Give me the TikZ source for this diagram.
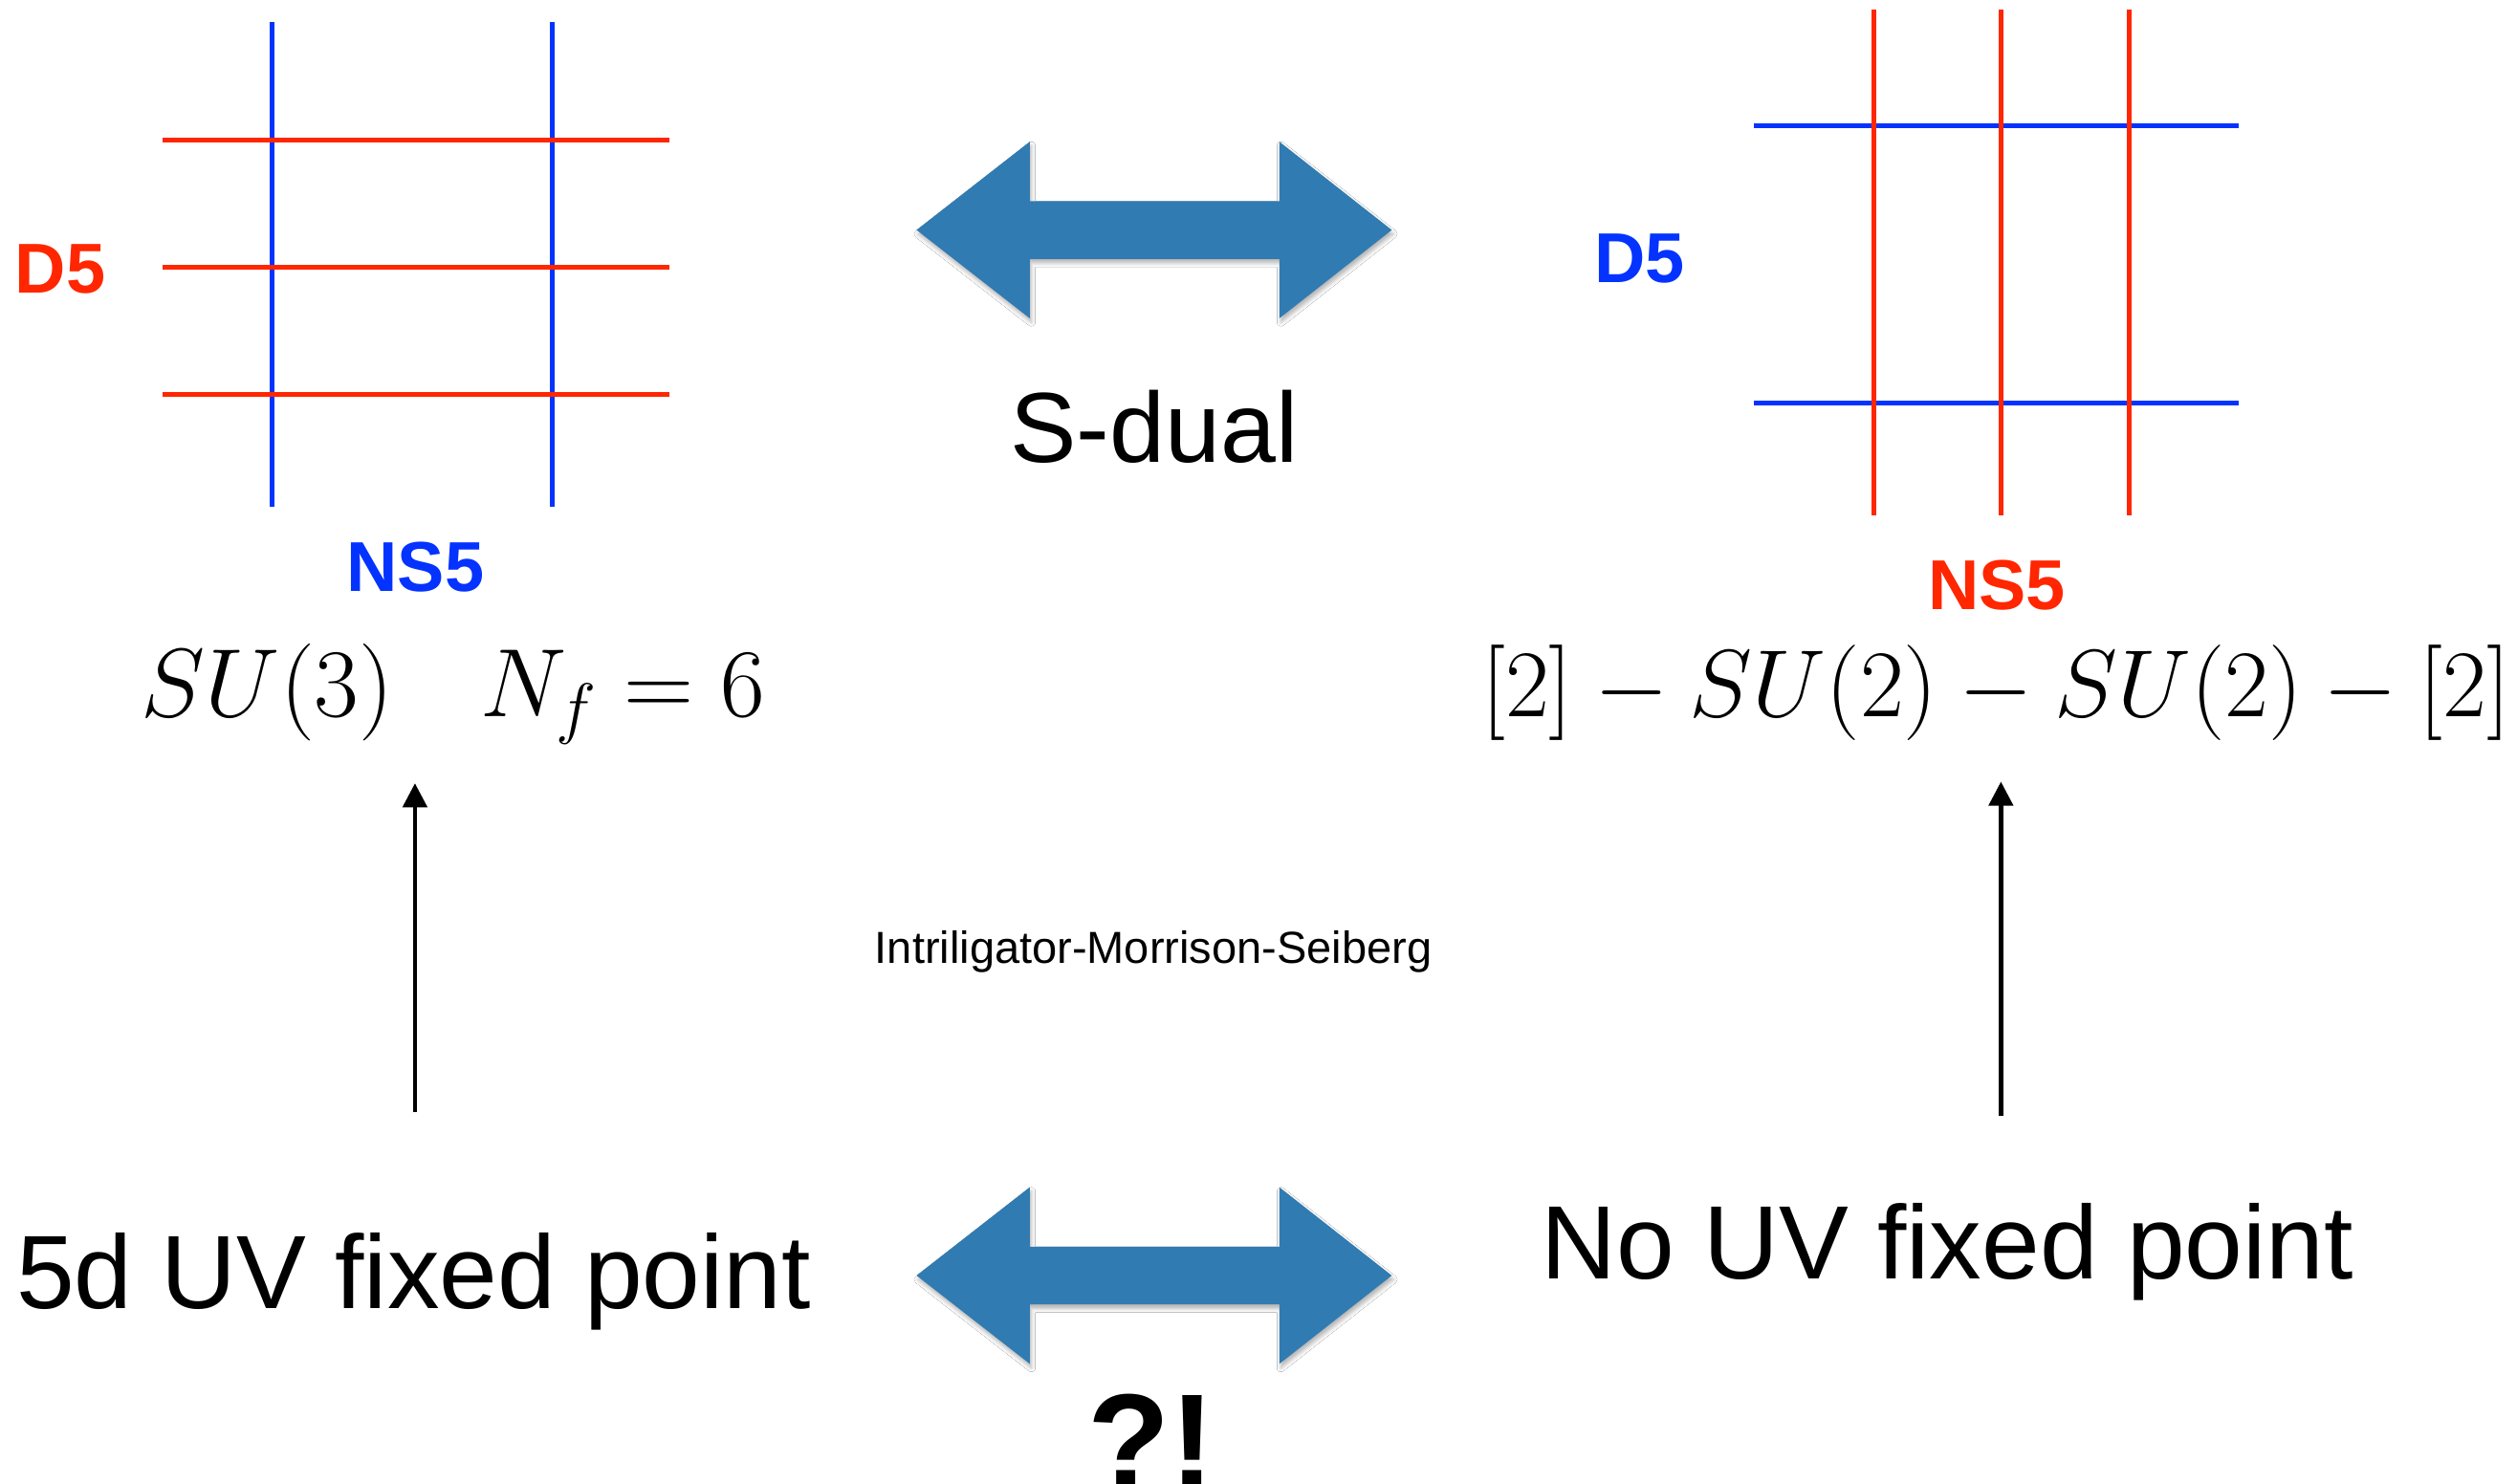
\RequirePackage{fix-cm}
\documentclass[tikz,border=0pt]{standalone}
\usepackage[no-math]{fontspec}
\newfontfamily\lsans{Liberation Sans}
\usetikzlibrary{arrows.meta,shadows.blur}
\definecolor{dred}{RGB}{255,38,0}
\definecolor{dblue}{RGB}{4,51,255}
\definecolor{arrblue}{RGB}{48,123,178}
\begin{document}
\begin{tikzpicture}[x=1pt,y=-1pt,
  lbl/.style={inner sep=0pt,anchor=base},
  branelbl/.style={lbl,font=\lsans\bfseries\fontsize{44}{48}\selectfont},
  bigtxt/.style={lbl,font=\lsans\fontsize{65}{70}\selectfont},
  mathlbl/.style={lbl,font=\fontsize{59.5}{63}\selectfont},
  redbrane/.style={draw=dred,line width=3pt},
  bluebrane/.style={draw=dblue,line width=3pt},
  flowarrow/.style={draw=black,line width=2.6pt,-{Triangle[length=15pt,width=15pt]}},
  bigarrow/.style={fill=arrblue,blur shadow={shadow xshift=1pt,shadow yshift=-2.5pt,shadow opacity=30,shadow blur radius=2.5pt}}
]
\useasboundingbox (0,0) rectangle (1568,924);
\fill[white] (0,0) rectangle (1568,924);
\clip (0,0) rectangle (1568,924);

% ---------- left brane web ----------
\foreach \xx in {169.3,343.9}
  \draw[bluebrane] (\xx,13.7) -- (\xx,315.5);
\foreach \yy in {87,166.3,245.5}
  \draw[redbrane] (101,\yy) -- (417,\yy);
\node[branelbl,text=dred] (d5L) at (37.5,182.4) {D5};
\node[branelbl,text=dblue] (ns5L) at (258.8,368.3) {NS5};

% ---------- right brane web ----------
\foreach \yy in {78.2,250.9}
  \draw[bluebrane] (1092.8,\yy) -- (1394.7,\yy);
\foreach \xx in {1167.2,1246.8,1326.3}
  \draw[redbrane] (\xx,6) -- (\xx,321);
\node[branelbl,text=dblue] (d5R) at (1021.6,176) {D5};
\node[branelbl,text=dred] (ns5R) at (1244,380) {NS5};

% ---------- gauge theories ----------
\node[mathlbl,font=\fontsize{60.5}{64}\selectfont] (su3) at (282.5,446.5) {$SU(3)\hspace{54pt}N_f=6$};
\node[mathlbl] (quiver) at (1243.5,446.5) {$[2]-SU(2)-SU(2)-[2]$};

% ---------- blue double arrows ----------
\foreach \yc in {143.3,794.7}
  \path[bigarrow] (571,\yc) -- (641.5,\yc-55) -- (641.5,\yc-18) -- (797,\yc-18)
    -- (797,\yc-55) -- (867,\yc) -- (797,\yc+55) -- (797,\yc+18)
    -- (641.5,\yc+18) -- (641.5,\yc+55) -- cycle;

% ---------- texts ----------
\node[lbl,font=\lsans\fontsize{62}{66}\selectfont] (sdual) at (719,288) {S-dual};
\node[lbl,font=\lsans\fontsize{28}{32}\selectfont] (ims) at (718.5,600) {Intriligator-Morrison-Seiberg};
\node[bigtxt,anchor=base west] (uvL) at (10,815) {5d UV fixed point};
\node[bigtxt,anchor=base west] (uvR) at (960,797) {No UV fixed point};
\node[lbl,font=\lsans\bfseries\fontsize{84}{90}\selectfont] (qm) at (717,927) {?!};

% ---------- flow arrows ----------
\coordinate (flL0) at (258.5,693);
\coordinate (flL1) at (258.5,488);
\coordinate (flR0) at (1246.5,695);
\coordinate (flR1) at (1246.5,487);
\draw[flowarrow] (flL0) -- (flL1);
\draw[flowarrow] (flR0) -- (flR1);
\end{tikzpicture}
\end{document}
